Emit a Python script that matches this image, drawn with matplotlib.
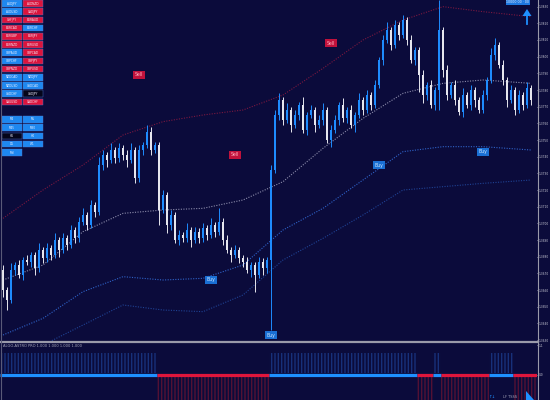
"""
Dark trading terminal chart: candles with bands, Buy/Sell tags,
a trend strip underneath and the symbol buttons in the corner.
"""

import matplotlib
matplotlib.use("Agg")
import matplotlib.pyplot as plt
from matplotlib.patches import Rectangle, Polygon
import numpy as np

# ── Colours ──────────────────────────────────────────────────────────
BG = "#0b0b3b"
UP_COL = "#1e8cff"
DN_COL = "#e6e6ee"
RED = "#e0163c"
BLUE = "#1e90ff"
AXIS_COL = "#9a9aaa"
TXT_COL = "#c8c8d4"

PIP = 0.0001

# ── Price data ───────────────────────────────────────────────────────
first_open = 1.3672
closes = [
    1.3660, 1.3654, 1.3672, 1.3675, 1.3669, 1.3678, 1.3677, 1.3681, 1.3673, 1.3684,
    1.3679, 1.3685, 1.3681, 1.3690, 1.3684, 1.3691, 1.3687, 1.3696, 1.3691, 1.3701,
    1.3705, 1.3699, 1.3711, 1.3707, 1.3735, 1.3741, 1.3738, 1.3744, 1.3739, 1.3745,
    1.3741, 1.3738, 1.3744, 1.3727, 1.3744, 1.3747, 1.3755, 1.3744, 1.3747, 1.3708,
    1.3717, 1.3699, 1.3705, 1.3690, 1.3693, 1.3691, 1.3696, 1.3690, 1.3695, 1.3691,
    1.3697, 1.3693, 1.3699, 1.3695, 1.3701, 1.3690, 1.3684, 1.3681, 1.3684, 1.3679,
    1.3677, 1.3672, 1.3675, 1.3669, 1.3677, 1.3673, 1.3678, 1.3732, 1.3765, 1.3774,
    1.3762, 1.3768, 1.3759, 1.3765, 1.3771, 1.3756, 1.3765, 1.3768, 1.3759, 1.3762,
    1.3768, 1.3750, 1.3756, 1.3762, 1.3771, 1.3763, 1.3768, 1.3759, 1.3765, 1.3774,
    1.3768, 1.3777, 1.3771, 1.3783, 1.3798, 1.3810, 1.3816, 1.3807, 1.3819, 1.3813,
    1.3822, 1.3810, 1.3798, 1.3804, 1.3789, 1.3777, 1.3783, 1.3771, 1.3780, 1.3816,
    1.3792, 1.3777, 1.3783, 1.3774, 1.3767, 1.3777, 1.3771, 1.3780, 1.3774, 1.3768,
    1.3777, 1.3786, 1.3801, 1.3807, 1.3795, 1.3786, 1.3774, 1.3780, 1.3768, 1.3777,
    1.3771, 1.3781, 1.3774,
]
# wick lengths in pips above the body top / below the body bottom
up_wick = [
    3, 2, 4, 2, 3, 2, 3, 2, 2, 4,
    2, 3, 2, 4, 2, 3, 2, 3, 2, 3,
    4, 2, 3, 2, 5, 3, 2, 4, 2, 3,
    2, 3, 4, 2, 3, 2, 4, 3, 2, 2,
    3, 2, 3, 2, 3, 2, 4, 2, 3, 2,
    3, 2, 4, 2, 8, 2, 3, 2, 3, 2,
    2, 3, 2, 2, 3, 2, 2, 3, 3, 4,
    2, 4, 2, 3, 2, 5, 2, 3, 2, 3,
    4, 2, 3, 3, 2, 4, 2, 3, 2, 4,
    2, 3, 2, 3, 2, 3, 5, 2, 3, 2,
    3, 2, 3, 2, 2, 3, 2, 3, 2, 18,
    2, 3, 2, 3, 2, 4, 2, 3, 2, 2,
    3, 2, 4, 4, 2, 3, 2, 3, 2, 3,
    2, 4, 2,
]
low_wick = [
    4, 6, 2, 3, 2, 3, 2, 3, 4, 2,
    3, 2, 3, 2, 4, 2, 3, 2, 3, 2,
    2, 3, 2, 3, 2, 3, 4, 2, 3, 2,
    3, 4, 2, 3, 2, 3, 2, 3, 2, 9,
    2, 5, 3, 2, 3, 2, 2, 4, 2, 3,
    2, 3, 2, 3, 2, 3, 2, 4, 2, 3,
    3, 2, 4, 10, 2, 4, 3, 42, 2, 3,
    3, 2, 4, 2, 3, 2, 3, 2, 4, 2,
    3, 2, 4, 2, 3, 2, 3, 2, 4, 2,
    3, 2, 3, 2, 2, 3, 2, 3, 2, 3,
    2, 3, 2, 3, 10, 5, 3, 2, 3, 12,
    4, 3, 2, 3, 2, 3, 2, 3, 4, 2,
    2, 3, 2, 3, 2, 3, 4, 2, 3, 2,
    3, 2, 3,
]

# ── Bands (sampled at a few bars) ────────────────────────────────────
band_idx = [0, 10, 20, 30, 40, 50, 60, 70, 80, 90, 100, 110, 120, 132]
band_upper = [1.3703, 1.3720, 1.3735, 1.3753, 1.3761, 1.3765, 1.3768,
              1.3777, 1.3793, 1.3810, 1.3822, 1.3830, 1.3827, 1.3824]
band_mid = [1.3666, 1.3675, 1.3695, 1.3706, 1.3708, 1.3709, 1.3714,
            1.3725, 1.3745, 1.3763, 1.3778, 1.3784, 1.3786, 1.3784]
band_low1 = [1.3633, 1.3643, 1.3659, 1.3668, 1.3666, 1.3667, 1.3675,
             1.3696, 1.3709, 1.3726, 1.3743, 1.3746, 1.3746, 1.3744]
band_low2 = [1.3621, 1.3627, 1.3639, 1.3651, 1.3648, 1.3647, 1.3657,
             1.3678, 1.3691, 1.3705, 1.3720, 1.3722, 1.3724, 1.3726]

# ── Signal tags ──────────────────────────────────────────────────────
sell_idx = [34, 58, 82]
sell_price = [1.3789, 1.3741, 1.3808]
buy_idx = [52, 67, 94, 120]
buy_price = [1.3666, 1.3633, 1.3735, 1.3743]

# ── Trend strip: (direction, number of bars) ─────────────────────────
trend_dir = [1, -1, 1, -1, 1, -1, 1, -1]
trend_len = [39, 28, 37, 4, 2, 12, 6, 5]

price_ticks = [1.3630 + 0.001 * k for k in range(21)]

# ── Button panel ─────────────────────────────────────────────────────
pairs = [
    ("AUDJPY", "AUDNZD"), ("AUDUSD", "CADJPY"), ("CHFJPY", "EURAUD"),
    ("EURCAD", "EURCHF"), ("EURGBP", "EURJPY"), ("EURNZD", "EURUSD"),
    ("GBPAUD", "GBPCAD"), ("GBPCHF", "GBPJPY"), ("GBPNZD", "GBPUSD"),
    ("NZDCAD", "NZDJPY"), ("NZDUSD", "USDCAD"), ("USDCHF", "USDJPY"),
    ("XAUUSD", "CADCHF"),
]
pair_state = [
    ("B", "R"), ("B", "R"), ("R", "R"), ("R", "B"), ("R", "R"), ("R", "R"),
    ("B", "R"), ("B", "R"), ("R", "R"), ("B", "B"), ("B", "B"), ("B", "K"),
    ("R", "R"),
]
frames = [("M1", "M5"), ("M15", "M30"), ("H1", "H4"), ("D1", "W1"), ("MN", None)]
frame_state = [("B", "B"), ("B", "B"), ("K", "B"), ("B", "B"), ("B", None)]
STATE_COL = {"B": "#1e88f0", "R": "#dc143c", "K": "#05051a"}

# ── Figure ───────────────────────────────────────────────────────────
W, H = 550, 400
fig = plt.figure(figsize=(5.5, 4.0), dpi=100, facecolor=BG)
ax = fig.add_axes([0, 1 - 341 / H, 537 / W, 341 / H], facecolor=BG)
sub = fig.add_axes([0, 0, 537 / W, 57 / H], facecolor=BG)

n = len(closes)
x = np.arange(n)
c = np.array(closes)
o = np.array([first_open] + closes[:-1])
top = np.maximum(o, c)
bot = np.minimum(o, c)
hi = top + np.array(up_wick) * PIP
lo = bot - np.array(low_wick) * PIP
up = c >= o
cols = np.where(up, UP_COL, DN_COL)

ax.vlines(x, lo, hi, colors=cols, lw=0.7, zorder=3)
ax.bar(x, np.maximum(top - bot, 0.3 * PIP), bottom=bot, width=0.62,
       color=cols, linewidth=0, zorder=4)

dot = (0, (1, 1.3))
ax.plot(band_idx, band_upper, color="#7a1840", lw=0.8, ls=dot, zorder=2)
ax.plot(band_idx, band_mid, color="#8c8cab", lw=0.8, ls=dot, zorder=2)
ax.plot(band_idx, band_low1, color="#2f62c8", lw=0.8, ls=dot, zorder=2)
ax.plot(band_idx, band_low2, color="#1f4294", lw=0.8, ls=dot, zorder=2)

for i, p in zip(sell_idx, sell_price):
    ax.text(i, p, "Sell", fontsize=3.3, color="#ffb0c0", ha="center", va="center",
            bbox=dict(boxstyle="square,pad=0.35", fc="#c0123c", ec="none"), zorder=6)
for i, p in zip(buy_idx, buy_price):
    ax.text(i, p, "Buy", fontsize=3.3, color="#cfe6ff", ha="center", va="center",
            bbox=dict(boxstyle="square,pad=0.35", fc="#1a6fd4", ec="none"), zorder=6)

ax.set_xlim(-0.75, 133.5)
ax.set_ylim(1.36294, 1.3834)
ax.set_xticks([])
ax.yaxis.tick_right()
ax.set_yticks(price_ticks)
ax.set_yticklabels([f"{v:.4f}" for v in price_ticks])
ax.tick_params(axis="y", colors=TXT_COL, labelsize=2.1, length=1.0, width=0.5, pad=0.4)
for s in ax.spines.values():
    s.set_visible(False)

# trend strip
start = 0
for d, L in zip(trend_dir, trend_len):
    x0 = start - 0.5 if start > 0 else -0.75
    x1 = start + L - 0.5 if start + L < n else 133.5
    col = BLUE if d > 0 else RED
    if d > 0:
        sub.fill_between([x0, x1], 0.05, 0.75, facecolor=BG, edgecolor="#17307a",
                         hatch="|||||", linewidth=0, zorder=1)
    else:
        sub.fill_between([x0, x1], -0.08, -0.95, facecolor=BG, edgecolor="#521134",
                         hatch="|||||", linewidth=0, zorder=1)
    sub.plot([x0, x1], [0, 0], color=col, lw=2.3, solid_capstyle="butt", zorder=3)
    start += L

sub.set_xlim(-0.75, 133.5)
sub.set_ylim(-0.85, 1.07)
sub.set_xticks([])
sub.yaxis.tick_right()
sub.set_yticks([1.0, 0.0])
sub.set_yticklabels(["1.1", "0.0"])
sub.tick_params(axis="y", colors=TXT_COL, labelsize=2.1, length=1.0, width=0.5, pad=0.4)
for s in sub.spines.values():
    s.set_visible(False)
sub.text(3 / 537, 0.94, "ALGO-ASTRO PRO 1.000 1.000 1.000 1.000", transform=sub.transAxes,
         fontsize=2.6, color="#a8a8bc", ha="left", va="center")

# ── Overlay in pixel coordinates: frame lines, buttons, corner widgets ──
ov = fig.add_axes([0, 0, 1, 1])
ov.set_xlim(0, W)
ov.set_ylim(H, 0)
ov.axis("off")
ov.patch.set_alpha(0)

ov.plot([537.5, 537.5], [0, H], color=AXIS_COL, lw=0.8)
ov.plot([0, 537.5], [341.5, 341.5], color=AXIS_COL, lw=1.6)
ov.plot([0.6, 0.6], [0, H], color="#5a5a78", lw=0.8)

def button(x0, y0, label, state):
    ov.add_patch(Rectangle((x0, y0), 19.5, 6.6, fc=STATE_COL[state],
                           ec="#4a78d0", lw=0.3))
    ov.text(x0 + 9.75, y0 + 3.4, label, fontsize=2.1, color="#f0f0ff",
            ha="center", va="center")

for r, (names, states) in enumerate(zip(pairs, pair_state)):
    for k in range(2):
        button(2 + k * 21, 0.2 + r * 8.2, names[k], states[k])
for r, (names, states) in enumerate(zip(frames, frame_state)):
    for k in range(2):
        if names[k] is not None:
            button(2 + k * 21, 116 + r * 8.3, names[k], states[k])

# top right: balance box and arrow
ov.add_patch(Rectangle((506, -2), 24, 6.8, fc="#1e78e0", ec="none"))
ov.text(518, 2.0, "10000.00 · 00", fontsize=2.3, color="#e8f0ff", ha="center", va="center")
ov.plot([527, 527], [14, 24], color=BLUE, lw=1.3)
ov.add_patch(Polygon([(522.5, 16), (527, 9), (531.5, 16)], closed=True, fc=BLUE, ec="none"))

# bottom right widgets
ov.text(492, 396.5, "↑↓", fontsize=3.2, color=BLUE, ha="center", va="center")
ov.text(510, 396.5, "LF TSSS", fontsize=2.5, color="#a8a8bc", ha="center", va="center")
ov.add_patch(Polygon([(526, 391), (526, 400), (534, 400)], closed=True, fc=BLUE, ec="none"))

fig.savefig("out.png", dpi=100, facecolor=BG)
